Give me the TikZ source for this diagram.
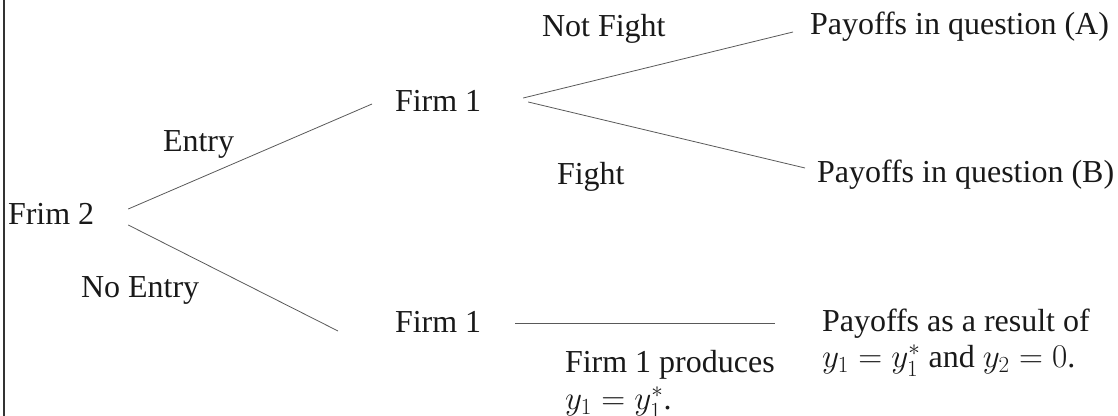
\documentclass[tikz,border=0pt]{standalone}
\usepackage{fontspec}
\setmainfont{Liberation Serif}
\begin{document}
\begin{tikzpicture}[x=0.75pt,y=-0.75pt,
  lbl/.style={anchor=base west,inner sep=0pt,outer sep=0pt,font=\fontsize{24}{28}\selectfont,text=black!90},
  branch/.style={draw=black!65,line width=0.6pt}]
\useasboundingbox (0,0) rectangle (1118,416);
\draw[black!80,line width=1.1pt] (4,0) -- (4,416);
% players
\node[lbl] (f2) at (8,225) {Frim 2};
\node[lbl] (u1) at (395,112) {Firm 1};
\node[lbl] (l1) at (395,333) {Firm 1};
% outcomes
\node[lbl] (pa) at (810,35) {Payoffs in question (A)};
\node[lbl] (pb) at (817,183) {Payoffs in question (B)};
\node[lbl] (pc) at (822,332) {Payoffs as a result of};
\node[lbl] (pc2) at (822,368) {$y_1=y_1^*$ and $y_2=0$.};
% action labels
\node[lbl] (entry) at (163,152) {Entry};
\node[lbl] (noentry) at (81,298) {No Entry};
\node[lbl] (nf) at (542,37) {Not Fight};
\node[lbl] (fi) at (557,185) {Fight};
\node[lbl] (prod) at (565,373) {Firm 1 produces};
\node[lbl] (prod2) at (565,410) {$y_1=y_1^*$.};
% branches
\draw[branch] ([shift={(34,-16)}]f2.base east) -- ([shift={(-23,-8)}]u1.base west);
\draw[branch] ([shift={(34,0)}]f2.base east) -- ([shift={(-57,-2)}]l1.base west);
\draw[branch] ([shift={(42,-14)}]u1.base east) -- ([shift={(-17,-3)}]pa.base west);
\draw[branch] ([shift={(47,-10)}]u1.base east) -- ([shift={(-12,-15)}]pb.base west);
\draw[branch] ([shift={(34,-10)}]l1.base east) -- ([shift={(-47,-9)}]pc.base west);
\end{tikzpicture}
\end{document}
